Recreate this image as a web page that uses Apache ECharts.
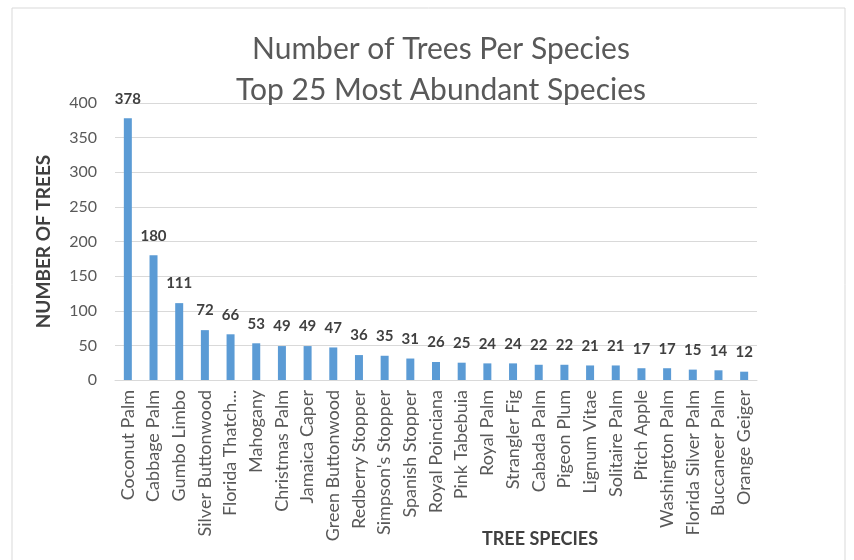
<!DOCTYPE html>
<html><head><meta charset="utf-8">
<script src="https://cdn.jsdelivr.net/npm/echarts@6/dist/echarts.min.js"></script>
<style>html,body{margin:0;padding:0;background:#fff}#c{width:854px;height:560px}</style>
</head><body><div id="c"></div>
<script>
const categories = ["Coconut Palm","Cabbage Palm","Gumbo Limbo","Silver Buttonwood","Florida Thatch...","Mahogany","Christmas Palm","Jamaica Caper","Green Buttonwood","Redberry Stopper","Simpson's Stopper","Spanish Stopper","Royal Poinciana","Pink Tabebuia","Royal Palm","Strangler Fig","Cabada Palm","Pigeon Plum","Lignum Vitae","Solitaire Palm","Pitch Apple","Washington Palm","Florida Silver Palm","Buccaneer Palm","Orange Geiger"];
const values = [378,180,111,72,66,53,49,49,47,36,35,31,26,25,24,24,22,22,21,21,17,17,15,14,12];
const yTicks = [0,50,100,150,200,250,300,350,400];

const chart = echarts.init(document.getElementById('c'));
chart.setOption({
  animation:false,
  textStyle:{fontFamily:'Lato'},
  graphic:[{type:'rect',shape:{x:12,y:8,width:833,height:560},style:{fill:'none',stroke:'#d9d9d9',lineWidth:1}}],
  title:{text:'Number of Trees Per Species\nTop 25 Most Abundant Species',left:436,textAlign:'center',top:24,
    textStyle:{fontFamily:'Lato',fontSize:30,fontWeight:'normal',color:'#595959',lineHeight:41}},
  grid:{left:115,right:97,top:103,bottom:180,containLabel:false,outerBoundsMode:'none'},
  xAxis:{type:'category',data:categories,
    name:'TREE SPECIES',nameLocation:'middle',nameGap:150,nameMoveOverlap:false,
    nameTextStyle:{fontFamily:'Lato',fontWeight:'bold',fontSize:18,color:'#404040',padding:[0,0,0,208]},
    axisTick:{show:false},axisLine:{lineStyle:{color:'#d9d9d9'}},
    axisLabel:{rotate:90,interval:0,fontSize:18,color:'#595959',margin:10}},
  yAxis:{type:'value',min:0,max:400,interval:50,
    name:'NUMBER OF TREES',nameLocation:'middle',nameGap:62,nameRotate:90,nameMoveOverlap:false,
    nameTextStyle:{fontFamily:'Lato',fontWeight:'bold',fontSize:19,color:'#404040'},
    axisLine:{show:false},axisTick:{show:false},
    splitLine:{lineStyle:{color:'#d9d9d9'}},
    axisLabel:{fontSize:16,color:'#595959',margin:18,
      formatter:v=>yTicks.includes(v)?String(v):''}},
  series:[{type:'bar',data:values,barWidth:8,itemStyle:{color:'#5b9bd5'},
    label:{show:true,position:'top',distance:12,fontSize:15,fontWeight:'bold',color:'#404040',fontFamily:'Lato'}}]
});
</script></body></html>
